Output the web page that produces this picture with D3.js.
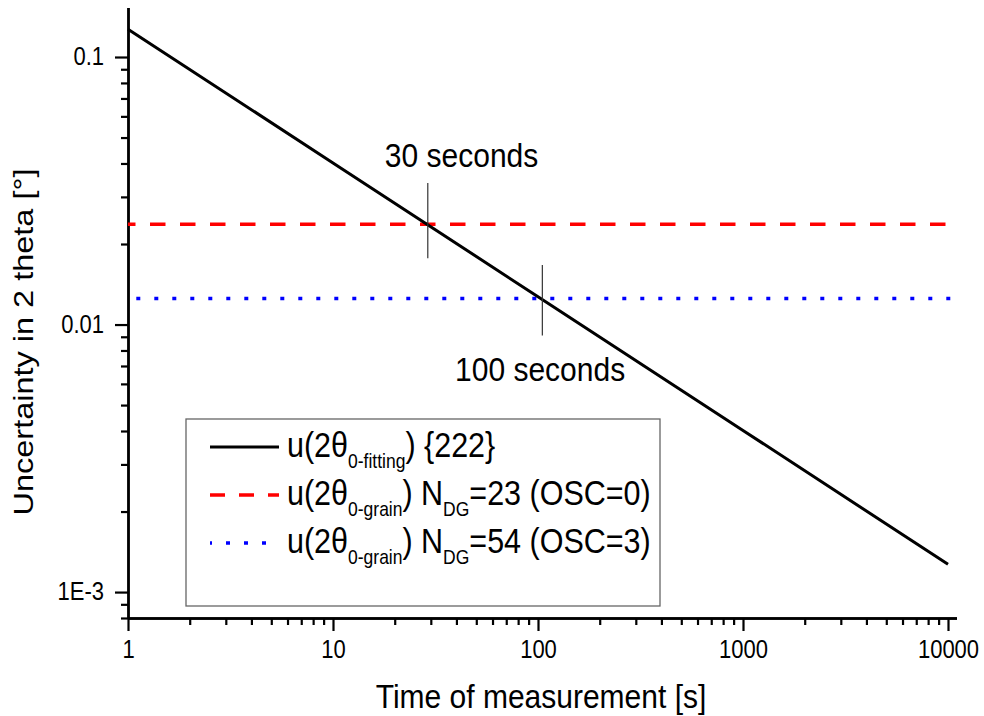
<!DOCTYPE html>
<html>
<head>
<meta charset="utf-8">
<script src="https://cdn.jsdelivr.net/npm/d3@7"></script>
<style>
body { margin: 0; background: #fff; }
text { font-family: "Liberation Sans", Arial, sans-serif; fill: #000; }
</style>
</head>
<body>
<svg id="chart" width="984" height="716"></svg>
<script>
// time of measurement [s] and fitted uncertainty u(2theta) [deg]
var timeSeconds = [1, 10, 100, 1000, 10000];
var uFitting = [0.127, 0.0402, 0.0127, 0.00402, 0.00127];

// grain statistics limits, flat across the whole time axis
var grainTime = [1, 11000];
var uGrainOSC0 = [0.0237, 0.0237];
var uGrainOSC3 = [0.0125, 0.0125];

// crossing markers (short vertical bars)
var crossTimes = [29, 105];
var crossTop = [0.0338, 0.0167];
var crossBottom = [0.0177, 0.0091];

// annotation texts
var noteTexts = ["30 seconds", "100 seconds"];
var noteTimes = [17.9, 39.4];
var noteValues = [0.0388, 0.00615];

var xMajorTicks = [1, 10, 100, 1000, 10000];
var xTickLabels = ["1", "10", "100", "1000", "10000"];
var yMajorTicks = [0.1, 0.01, 0.001];
var yTickLabels = ["0.1", "0.01", "1E-3"];

var legendLabels = [
    [["u(2θ", 0], ["0-fitting", 1], [") {222}", 0]],
    [["u(2θ", 0], ["0-grain", 1], [") N", 0], ["DG", 1], ["=23 (OSC=0)", 0]],
    [["u(2θ", 0], ["0-grain", 1], [") N", 0], ["DG", 1], ["=54 (OSC=3)", 0]]
];

var STRETCH = 1.13;   // glyphs in the original are a bit taller than wide

var svg = d3.select("#chart");

var x = d3.scaleLog()
        .domain([1, 11000])
        .range([128, 128 + 205 * Math.log10(11000)]);
var y = d3.scaleLog()
        .domain([0.0008, 0.153])
        .range([618, 7.6]);

function minorTicks(scale, majors) {
    var dom = scale.domain(), out = [];
    for (var e = -5; e <= 5; e++) {
        for (var k = 2; k <= 9; k++) {
            var v = k * Math.pow(10, e);
            if (v >= dom[0] * 0.9999 && v <= dom[1] && majors.indexOf(v) < 0) { out.push(+v.toPrecision(6)); }
        }
    }
    return out;
}

function styleAxis(g) {
    g.attr("font-size", null).attr("font-family", null);
    g.selectAll(".domain").attr("stroke", "#000").attr("stroke-width", 2.4);
    g.selectAll(".tick line").attr("stroke", "#000").attr("stroke-width", 2.2);
}

// x axis
var xAxisG = svg.append("g").attr("transform", "translate(0," + y.range()[0] + ")");
xAxisG.append("g")
    .call(d3.axisBottom(x).tickValues(minorTicks(x, xMajorTicks)).tickFormat("").tickSize(7).tickSizeOuter(0))
    .call(styleAxis);
xAxisG.append("g")
    .call(d3.axisBottom(x).tickValues(xMajorTicks)
          .tickFormat(function(d, i) { return xTickLabels[i]; })
          .tickSize(13).tickSizeOuter(0))
    .call(styleAxis)
    .selectAll(".tick text")
    .attr("y", null).attr("dy", null)
    .style("font-size", "22px")
    .attr("transform", "translate(0,40) scale(1," + STRETCH + ")");

// y axis
var yAxisG = svg.append("g").attr("transform", "translate(" + x.range()[0] + ",0)");
yAxisG.append("g")
    .call(d3.axisLeft(y).tickValues(minorTicks(y, yMajorTicks)).tickFormat("").tickSize(7).tickSizeOuter(0))
    .call(styleAxis);
yAxisG.append("g")
    .call(d3.axisLeft(y).tickValues(yMajorTicks)
          .tickFormat(function(d, i) { return yTickLabels[i]; })
          .tickSize(13).tickSizeOuter(0))
    .call(styleAxis)
    .selectAll(".tick text")
    .attr("x", null).attr("dy", "0.3em")
    .style("font-size", "22px")
    .attr("transform", "translate(-24,0) scale(1," + STRETCH + ")");

// axis titles
svg.append("text")
    .attr("text-anchor", "middle")
    .style("font-size", "30px")
    .attr("transform", "translate(541,708) scale(1," + STRETCH + ")")
    .text("Time of measurement [s]");
svg.append("text")
    .attr("text-anchor", "middle")
    .style("font-size", "28px")
    .attr("transform", "translate(33,342) rotate(-90) scale(1.16,1)")
    .text("Uncertainty in 2 theta [°]");

// series
var line = d3.line()
        .x(function(d) { return x(d[0]); })
        .y(function(d) { return y(d[1]); });

svg.append("path")
    .datum(d3.zip(grainTime, uGrainOSC0))
    .attr("fill", "none")
    .attr("stroke", "#ff0000")
    .attr("stroke-width", 3.5)
    .attr("stroke-dasharray", "15.5,14.5")
    .attr("stroke-dashoffset", 8)
    .attr("d", line);

svg.append("path")
    .datum(d3.zip(grainTime, uGrainOSC3))
    .attr("fill", "none")
    .attr("stroke", "#0000ff")
    .attr("stroke-width", 3.5)
    .attr("stroke-dasharray", "4,14")
    .attr("stroke-dashoffset", 9.7)
    .attr("d", line);

svg.append("path")
    .datum(d3.zip(timeSeconds, uFitting))
    .attr("fill", "none")
    .attr("stroke", "#000")
    .attr("stroke-width", 3)
    .attr("d", line);

// crossing markers
svg.selectAll(".cross")
    .data(d3.range(crossTimes.length))
    .enter().append("line")
    .attr("class", "cross")
    .attr("x1", function(i) { return x(crossTimes[i]); })
    .attr("x2", function(i) { return x(crossTimes[i]); })
    .attr("y1", function(i) { return y(crossTop[i]); })
    .attr("y2", function(i) { return y(crossBottom[i]); })
    .attr("stroke", "#333")
    .attr("stroke-width", 1.2);

svg.selectAll(".note")
    .data(d3.range(noteTexts.length))
    .enter().append("text")
    .attr("class", "note")
    .style("font-size", "30px")
    .attr("transform", function(i) {
        return "translate(" + x(noteTimes[i]) + "," + y(noteValues[i]) + ") scale(1," + STRETCH + ")";
    })
    .text(function(i) { return noteTexts[i]; });

// legend
var legend = svg.append("g").attr("transform", "translate(186,419)");
legend.append("rect")
    .attr("width", 474).attr("height", 187)
    .attr("fill", "#fff")
    .attr("stroke", "#666")
    .attr("stroke-width", 1.3);

var legendStyles = [
    {stroke: "#000", width: 3, dash: null, offset: 0},
    {stroke: "#ff0000", width: 3.5, dash: "15,14", offset: 0},
    {stroke: "#0000ff", width: 3.5, dash: "4,14", offset: 2}
];

var rows = legend.selectAll(".row")
        .data(legendLabels)
        .enter().append("g")
        .attr("class", "row")
        .attr("transform", function(d, i) { return "translate(0," + (28 + i * 48) + ")"; });

rows.append("line")
    .attr("x1", 24).attr("x2", 93)
    .attr("stroke", function(d, i) { return legendStyles[i].stroke; })
    .attr("stroke-width", function(d, i) { return legendStyles[i].width; })
    .attr("stroke-dasharray", function(d, i) { return legendStyles[i].dash; })
    .attr("stroke-dashoffset", function(d, i) { return legendStyles[i].offset; });

rows.append("text")
    .style("font-size", "30.5px")
    .attr("transform", "translate(101,10) scale(1," + STRETCH + ")")
    .each(function(parts) {
        var t = d3.select(this), prevSub = 0;
        parts.forEach(function(p) {
            var sub = p[1];
            t.append("tspan")
                .attr("dy", sub === prevSub ? 0 : (sub ? 9.5 : -9.5))
                .style("font-size", sub ? "17.5px" : "30.5px")
                .text(p[0]);
            prevSub = sub;
        });
    });
</script>
</body>
</html>
